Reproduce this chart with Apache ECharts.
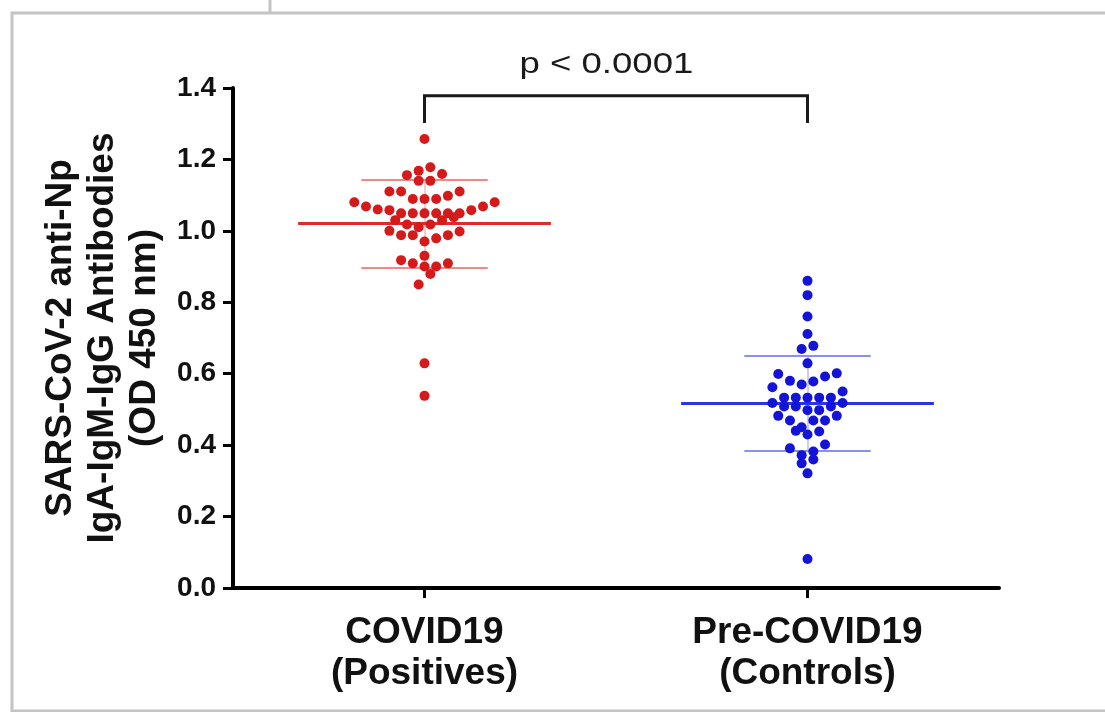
<!DOCTYPE html>
<html><head><meta charset="utf-8">
<script src="https://cdn.jsdelivr.net/npm/echarts@6/dist/echarts.min.js"></script>
<style>html,body{margin:0;padding:0;background:#fff}#c{width:1105px;height:712px}</style>
</head><body><div id="c"></div>
<script>
// ---------------- data ----------------
const categories = ['COVID19\n(Positives)', 'Pre-COVID19\n(Controls)'];
const positives = [1.257,1.178,1.168,1.159,1.156,1.140,1.140,1.110,1.110,1.110,1.098,1.089,1.089,1.089,
  1.080,1.080,1.068,1.068,1.060,1.058,1.058,1.049,1.049,1.049,1.049,1.049,1.049,1.038,1.030,1.030,
  1.018,1.018,1.010,1.000,0.998,0.988,0.988,0.988,0.979,0.970,0.930,0.918,0.909,0.909,0.900,0.900,
  0.879,0.850,0.629,0.538];
const controls = [0.860,0.820,0.760,0.711,0.678,0.669,0.629,0.601,0.599,0.592,0.580,0.578,0.570,0.562,
  0.550,0.533,0.533,0.533,0.533,0.533,0.518,0.518,0.508,0.508,0.508,0.498,0.498,0.482,0.482,0.469,
  0.469,0.469,0.450,0.440,0.438,0.430,0.402,0.391,0.382,0.372,0.360,0.349,0.321,0.081];
const groupMeans = [1.021, 0.517];
const groupSDs = [0.123, 0.134];
const yTickLabels = ['0.0','0.2','0.4','0.6','0.8','1.0','1.2','1.4'];
const pValueLabel = 'p < 0.0001';
const yTitle = 'SARS-CoV-2 anti-Np\nIgA-IgM-IgG Antibodies\n(OD 450 nm)';

// ---------------- layout / style ----------------
const catPos = [1, 3];
const colors = ['#d41a1a', '#1414d8'];
const meanColors = ['#e02a2a', '#2a36e0'];
const sdColors = ['#f08888', '#8890f0'];
const FONT = '"Liberation Sans", Arial, Helvetica, sans-serif';
const meanHalf = 0.66, capHalf = 0.33;
const bracketTop = 1.378, bracketBottom = 1.302;
const rowBin = 0.04, rowShift = 0.006, dotStepPx = 11.7;

const chart = echarts.init(document.getElementById('c'), null, {renderer: 'canvas'});

const baseOption = {
  animation: false,
  backgroundColor: '#fff',
  grid: {left: 233, right: 106, top: 88, bottom: 124, containLabel: false, outerBoundsMode: 'none'},
  xAxis: {
    type: 'value', min: 0, max: 4, interval: 1,
    splitLine: {show: false},
    axisLine: {lineStyle: {color: '#000', width: 4}},
    axisTick: {customValues: catPos, length: 10, lineStyle: {color: '#000', width: 3}},
    axisLabel: {
      customValues: catPos, margin: 24,
      fontFamily: FONT, fontWeight: 'bold', fontSize: 37, lineHeight: 41, color: '#111',
      formatter: v => { const i = catPos.indexOf(Math.round(v)); return i >= 0 ? categories[i] : ''; }
    }
  },
  yAxis: {
    type: 'value', min: 0, max: 1.4, interval: 0.2,
    splitLine: {show: false},
    axisLine: {show: true, lineStyle: {color: '#000', width: 4}},
    axisTick: {show: true, length: 10, lineStyle: {color: '#000', width: 3}},
    axisLabel: {
      margin: 17, fontFamily: FONT, fontWeight: 'bold', fontSize: 28, color: '#111',
      formatter: v => yTickLabels[Math.round(v / 0.2)]
    },
    name: yTitle, nameLocation: 'middle', nameRotate: 90, nameGap: 63,
    nameTextStyle: {fontFamily: FONT, fontWeight: 'bold', fontSize: 37, lineHeight: 42, color: '#111', align: 'center'}
  },
  series: []
};
chart.setOption(baseOption);

// Prism-like scatter layout: points binned in rows, spread from the centre outward
function rowLayout(values, pos) {
  const a = chart.convertToPixel({gridIndex: 0}, [0, 0]);
  const b = chart.convertToPixel({gridIndex: 0}, [1, 0]);
  const step = dotStepPx / (b[0] - a[0]);
  const rows = {};
  values.forEach((v, i) => {
    const k = Math.floor((v - rowShift) / rowBin);
    (rows[k] = rows[k] || []).push(i);
  });
  const out = new Array(values.length);
  Object.values(rows).forEach(idx => {
    idx.sort((p, q) => values[p] - values[q]);
    const n = idx.length;
    idx.forEach((i, j) => {
      let off;
      if (n % 2 === 1) off = j === 0 ? 0 : (j % 2 === 1 ? 1 : -1) * Math.ceil(j / 2);
      else off = (j % 2 === 0 ? -1 : 1) * (Math.floor(j / 2) + 0.5);
      out[i] = [pos + off * step, values[i]];
    });
  });
  return out;
}

const groups = [positives, controls];
const series = [];
groups.forEach((vals, g) => {
  const p = catPos[g], m = groupMeans[g], s = groupSDs[g];
  series.push({
    type: 'lines', coordinateSystem: 'cartesian2d', z: 2, silent: true,
    lineStyle: {color: sdColors[g], width: 2, opacity: 1},
    data: [
      {coords: [[p - capHalf, m + s], [p + capHalf, m + s]]},
      {coords: [[p - capHalf, m - s], [p + capHalf, m - s]]},
      {coords: [[p, m - s], [p, m + s]], lineStyle: {width: 1.5, opacity: 0.6}}
    ]
  });
  series.push({
    type: 'lines', coordinateSystem: 'cartesian2d', z: 3, silent: true,
    lineStyle: {color: meanColors[g], width: 3, opacity: 1},
    data: [{coords: [[p - meanHalf, m], [p + meanHalf, m]]}]
  });
  series.push({
    type: 'scatter', z: 5, symbol: 'circle', symbolSize: 10,
    itemStyle: {color: colors[g], opacity: 1},
    data: rowLayout(vals, p)
  });
});
// significance bracket
series.push({
  type: 'lines', coordinateSystem: 'cartesian2d', polyline: true, z: 4, silent: true,
  lineStyle: {color: '#1a1a1a', width: 3, opacity: 1},
  data: [{coords: [[catPos[0], bracketBottom], [catPos[0], bracketTop], [catPos[1], bracketTop], [catPos[1], bracketBottom]]}]
});

const pPix = chart.convertToPixel({gridIndex: 0}, [1.95, 1.465]);
chart.setOption({
  series,
  graphic: [
    {type: 'rect', silent: true, z: 0, shape: {x: 12, y: 13, width: 1100, height: 698},
      style: {fill: 'none', stroke: '#c4c4c4', lineWidth: 3}},
    {type: 'line', silent: true, shape: {x1: 270, y1: 0, x2: 270, y2: 13},
      style: {stroke: '#c4c4c4', lineWidth: 3}},
    {type: 'text', silent: true, x: pPix[0], y: pPix[1], scaleX: 1.22,
      style: {text: pValueLabel, x: 0, y: 0, align: 'center', verticalAlign: 'middle',
        font: '30px ' + FONT, fill: '#1a1a1a'}}
  ]
});
</script></body></html>
